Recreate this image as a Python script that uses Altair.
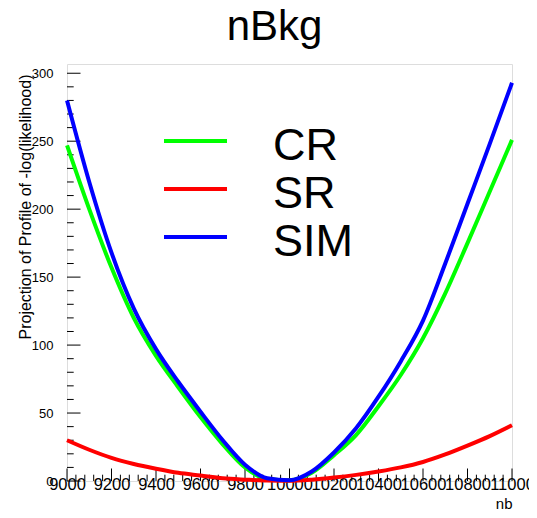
import altair as alt
import pandas as pd

# ---- data ----
nb = [9000, 9100, 9200, 9300, 9400, 9500, 9600, 9700, 9800, 9900, 10000,
      10100, 10200, 10300, 10400, 10500, 10600, 10700, 10800, 10900, 11000]
cr = [247, 200, 157, 120, 92, 69, 47, 27, 10, 1.5, 0.5,
      6, 19, 34, 55, 78, 105, 138, 175, 213, 251]
sr = [30, 23, 17, 12.5, 9, 6, 4, 2, 1, 0.3, 0.2,
      1, 2.5, 4.5, 7, 10, 14, 19.5, 26, 33, 41]
sim = [280, 220, 168, 127, 97, 73, 51, 30, 12, 2, 0.5,
       7, 21, 39, 62, 88, 118, 160, 204, 248, 293]

series_names = ["CR", "SR", "SIM"]
series_colors = ["#00ff00", "#ff0000", "#0000ff"]

x_major = [9000, 9200, 9400, 9600, 9800, 10000, 10200, 10400, 10600, 10800, 11000]
y_major = [0, 50, 100, 150, 200, 250, 300]
x_minor = [v for v in range(9000, 11001, 40) if v not in x_major]
y_minor = [v for v in range(0, 301, 10) if v not in y_major]

W, H = 445, 417
FONT = "Liberation Sans"
X_TITLE = "nb"
Y_TITLE = "Projection of Profile of -log(likelihood)"

rows = []
for name, vals in zip(series_names, [cr, sr, sim]):
    for x, v in zip(nb, vals):
        rows.append({"nb": x, "value": v, "series": name})
df = pd.DataFrame(rows)

xs = alt.Scale(domain=[9000, 11000], nice=False, zero=False)
ys = alt.Scale(domain=[0, 306.8], nice=False, zero=False)
cs = alt.Scale(domain=series_names, range=series_colors)

x_axis = alt.Axis(values=x_major, format="d", ticks=False, tickSize=0, domain=False,
                  grid=False, labelFont=FONT, labelFontSize=16.5, labelColor="black",
                  labelBaseline="alphabetic", labelPadding=8.5, labelFlush=False,
                  labelOverlap=False, titleFont=FONT, titleFontSize=15,
                  titleFontWeight="normal", titleColor="black", titleX=W, titleY=27,
                  titleAlign="right", titleBaseline="alphabetic")
y_axis = alt.Axis(values=y_major, ticks=False, tickSize=0, domain=False, grid=False,
                  labelFont=FONT, labelFontSize=13, labelColor="black", labelPadding=14,
                  labelOverlap=False,
                  titleFont=FONT, titleFontSize=16, titleFontWeight="normal",
                  titleColor="black", titleX=-37, titleY=10, titleAlign="right",
                  titleBaseline="alphabetic", titleAngle=270)


def series_layer(name):
    return alt.Chart(df).transform_filter(alt.datum.series == name).mark_line(
        strokeWidth=4, interpolate="monotone"
    ).encode(
        x=alt.X("nb:Q", scale=xs, axis=x_axis, title=X_TITLE),
        y=alt.Y("value:Q", scale=ys, axis=y_axis, title=Y_TITLE),
        color=alt.Color("series:N", scale=cs, legend=None),
    )


def xticks(vals, length):
    return alt.Chart(pd.DataFrame({"nb": vals})).mark_rule(color="black", strokeWidth=1).encode(
        x=alt.X("nb:Q", scale=xs, axis=x_axis, title=X_TITLE),
        y=alt.value(H), y2=alt.value(H - length),
    )


def yticks(vals, length):
    return alt.Chart(pd.DataFrame({"value": vals})).mark_rule(color="black", strokeWidth=1).encode(
        y=alt.Y("value:Q", scale=ys, axis=y_axis, title=Y_TITLE),
        x=alt.value(0), x2=alt.value(length),
    )


main = alt.layer(
    xticks(x_major, 12.5), xticks(x_minor, 6.3),
    yticks(y_major, 13.5), yticks(y_minor, 6.7),
    series_layer("CR"), series_layer("SR"), series_layer("SIM"),
)

leg_df = pd.DataFrame({"series": series_names})
leg_y = alt.Y("series:N", scale=alt.Scale(type="point", domain=series_names,
                                          range=[77, 173], padding=0), axis=None)
leg_rules = alt.Chart(leg_df).mark_rule(strokeWidth=4).encode(
    x=alt.value(97), x2=alt.value(160), y=leg_y,
    color=alt.Color("series:N", scale=cs, legend=None),
)
leg_text = alt.Chart(leg_df).mark_text(
    align="left", baseline="alphabetic", dy=19, fontSize=45, font=FONT, color="black"
).encode(x=alt.value(206), y=leg_y, text="series:N")
legend = alt.layer(leg_rules, leg_text)

chart = alt.layer(main, legend).resolve_scale(y="independent").properties(
    width=W, height=H,
    title=alt.TitleParams("nBkg", font=FONT, fontSize=42, fontWeight="normal",
                          color="black", anchor="middle", frame="group",
                          baseline="alphabetic", offset=21, dx=-15, dy=39),
    autosize=alt.AutoSizeParams(type="none"),
    padding={"left": 59, "top": 56, "right": 17, "bottom": 29},
).configure_view(stroke="black", strokeWidth=1).configure(background="white")

chart.save("out.html", embed_options={"renderer": "svg", "actions": False})
